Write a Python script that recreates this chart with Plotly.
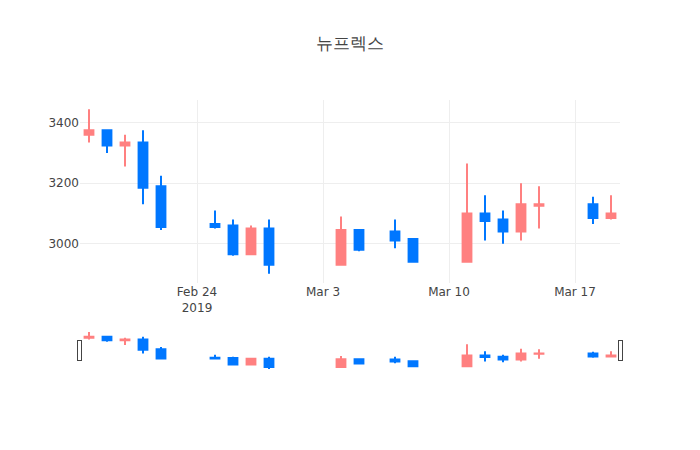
import plotly.graph_objects as go

dates = [
    '2019-02-18', '2019-02-19', '2019-02-20', '2019-02-21', '2019-02-22',
    '2019-02-25', '2019-02-26', '2019-02-27', '2019-02-28',
    '2019-03-04', '2019-03-05', '2019-03-07', '2019-03-08',
    '2019-03-11', '2019-03-12', '2019-03-13', '2019-03-14', '2019-03-15',
    '2019-03-18', '2019-03-19',
]
open_prices = [3360, 3375, 3325, 3335, 3190, 3065, 3060, 2965, 3050,
               2930, 3045, 3040, 3015, 2940, 3100, 3080, 3040, 3125, 3130, 3085]
high_prices = [3445, 3375, 3360, 3375, 3225, 3110, 3080, 3060, 3080,
               3090, 3045, 3080, 3015, 3265, 3160, 3110, 3200, 3190, 3155, 3160]
low_prices = [3335, 3300, 3255, 3130, 3045, 3050, 2960, 2965, 2900,
              2930, 2975, 2985, 2940, 2940, 3010, 3000, 3010, 3050, 3065, 3080]
close_prices = [3375, 3325, 3335, 3185, 3055, 3055, 2965, 3050, 2930,
                3045, 2980, 3010, 2940, 3100, 3075, 3040, 3130, 3130, 3085, 3100]

fig = go.Figure()

fig.add_trace(go.Candlestick(
    x=dates,
    open=open_prices,
    high=high_prices,
    low=low_prices,
    close=close_prices,
    increasing=dict(line=dict(color='#FF8080'), fillcolor='#FF8080'),
    decreasing=dict(line=dict(color='#0077FF'), fillcolor='#0077FF'),
    showlegend=False
))

# page body has an 8px margin, so size/margins compensate for it
fig.update_layout(
    title=dict(text='뉴프렉스', y=0.919, yanchor='middle'),
    template='none',
    font=dict(family='DejaVu Sans, Verdana, sans-serif'),
    width=684,
    height=434,
    margin=dict(l=72, r=72, t=92, b=72),
    xaxis_rangeslider_visible=True
)

fig.write_html("out.html")
